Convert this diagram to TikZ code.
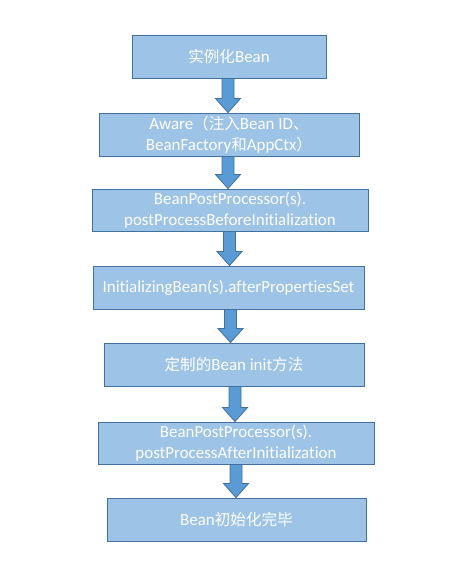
\documentclass[tikz,border=0pt]{standalone}
\usepackage{fontspec}
\setmainfont{Carlito}[Ligatures=NoCommon]
\newfontfamily\cjk{Noto Sans CJK SC}[Scale=0.92]
\usetikzlibrary{calc}
\definecolor{boxfill}{HTML}{9DC3E6}
\definecolor{boxline}{HTML}{41719C}
\definecolor{arrfill}{HTML}{5B9BD5}
\tikzset{
  stepbox/.style={draw=boxline, line width=0.9bp, fill=boxfill, text=white,
    align=center, inner sep=0pt, minimum height=43bp,
    font=\fontsize{17}{21}\selectfont},
  arr/.style={draw=boxline, line width=0.8bp, fill=arrfill}
}
% block arrow: x position, upper node, lower node
\newcommand{\blockarr}[3]{%
  \coordinate (T) at (#1,0 |- #2.south);
  \coordinate (B) at (#1,0 |- #3.north);
  \filldraw[arr] ($(T)+(-6,0)$) -- ($(T)+(6,0)$) -- ($(B)+(6,-14)$)
    -- ($(B)+(12.5,-14)$) -- (B) -- ($(B)+(-12.5,-14)$)
    -- ($(B)+(-6,-14)$) -- cycle;
}
\begin{document}
\begin{tikzpicture}[x=1bp, y=-1bp]
    \useasboundingbox (0,0) rectangle (462,571);
    \node[stepbox, minimum width=194bp] (inst) at (229,56.5) {{\cjk 实例化}Bean};
    \node[stepbox, minimum width=260bp] (aware) at (229,134.5) {Aware{\cjk （注入}Bean ID{\cjk 、}\\BeanFactory{\cjk 和}AppCtx{\cjk ）}};
    \node[stepbox, minimum width=276bp, minimum height=42bp] (before) at (230,210) {BeanPostProcessor(s).\\postProcessBeforeInitialization};
    \node[stepbox, minimum width=271bp] (props) at (228.5,287.5) {InitializingBean(s).afterPropertiesSet};
    \node[stepbox, minimum width=260bp] (init) at (234,364.5) {{\cjk 定制的}Bean init{\cjk 方法}};
    \node[stepbox, minimum width=276bp, minimum height=42bp] (after) at (236,443) {BeanPostProcessor(s).\\postProcessAfterInitialization};
    \node[stepbox, minimum width=259bp] (done) at (236.5,519.5) {Bean{\cjk 初始化完毕}};
    \blockarr{228}{inst}{aware}
    \blockarr{228}{aware}{before}
    \blockarr{229.5}{before}{props}
    \blockarr{230.5}{props}{init}
    \blockarr{235}{init}{after}
    \blockarr{236}{after}{done}
\end{tikzpicture}
\end{document}
